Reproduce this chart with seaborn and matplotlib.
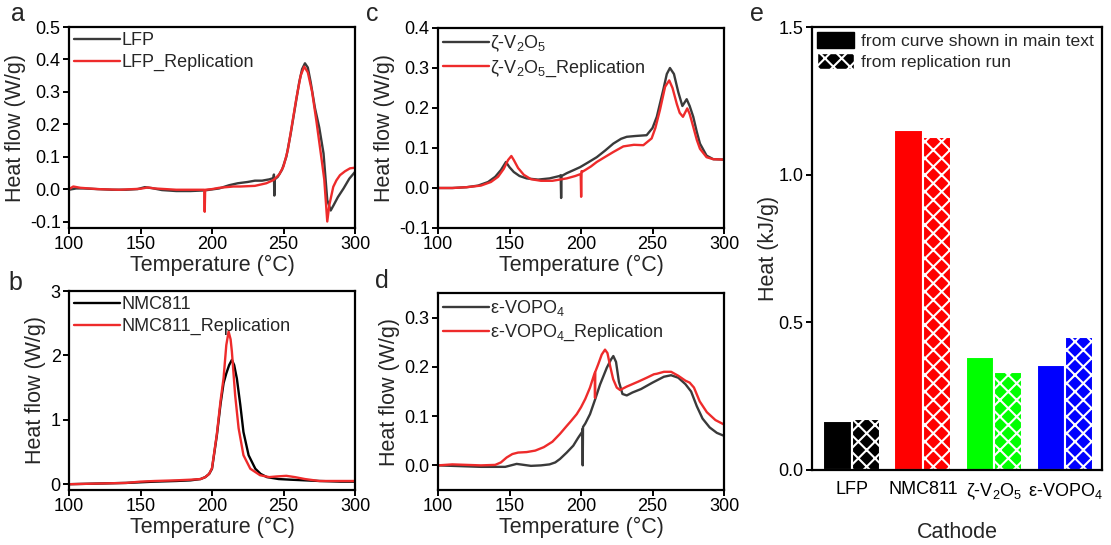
import matplotlib
matplotlib.use("Agg")
import matplotlib.pyplot as plt
from matplotlib.patches import Patch
import numpy as np
import pandas as pd
import seaborn as sns

# ---- panel a : LFP
lfp_T = [100, 105, 110, 120, 130, 140, 148, 153, 158, 165, 175, 185, 195, 205, 212, 218, 225,
         230, 235, 240, 243, 243.3, 243.6, 243.9, 246, 249, 252, 255, 258, 261, 263, 265, 267,
         269, 272, 275, 278, 280.6, 283, 285, 288, 292, 296, 300]
lfp_Y = [-0.002, 0.002, 0.002, 0.0, -0.002, -0.002, 0.0, 0.006, 0.003, -0.003, -0.006, -0.006,
         -0.004, 0.002, 0.012, 0.018, 0.022, 0.026, 0.026, 0.030, 0.034, 0.045, -0.02, 0.03,
         0.038, 0.06, 0.10, 0.17, 0.25, 0.33, 0.37, 0.388, 0.375, 0.33, 0.25, 0.19, 0.11,
         -0.034, -0.066, -0.05, -0.025, 0.002, 0.032, 0.053]
lfp_rep_T = [100, 103, 108, 120, 135, 150, 155, 160, 175, 190, 194.6, 194.9, 195.2, 195.5, 200,
             205, 210, 215, 220, 230, 238, 243, 247, 250, 253, 256, 259, 262, 264.5, 267, 270,
             273, 276.7, 278.5, 280.6, 282, 284.8, 287, 289.5, 293, 296.5, 300]
lfp_rep_Y = [0.0, 0.008, 0.004, 0.0, -0.002, 0.001, 0.005, 0.002, -0.002, -0.002, -0.002, -0.07,
             -0.005, -0.002, 0.0, 0.004, 0.006, 0.008, 0.008, 0.01, 0.018, 0.028, 0.045, 0.07,
             0.12, 0.2, 0.28, 0.35, 0.378, 0.36, 0.3, 0.21, 0.09, 0.03, -0.1, -0.05, 0.007,
             0.027, 0.043, 0.055, 0.064, 0.066]

# ---- panel b : NMC811
nmc_T = [100, 120, 140, 150, 160, 175, 185, 192, 195.3, 198, 200, 203.4, 206, 208.1, 210, 212,
         213.9, 215.5, 217.4, 219.8, 222, 225.6, 230.3, 234, 238.4, 246.6, 255, 265, 275, 290, 300]
nmc_Y = [0.0, 0.01, 0.02, 0.03, 0.04, 0.05, 0.06, 0.08, 0.11, 0.16, 0.24, 0.76, 1.25, 1.57,
         1.72, 1.85, 1.93, 1.85, 1.64, 1.23, 0.81, 0.45, 0.24, 0.16, 0.11, 0.08, 0.07, 0.06,
         0.05, 0.04, 0.04]
nmc_rep_T = [100, 120, 140, 150, 160, 175, 185, 192, 195.3, 198, 200, 203.4, 206, 208.1, 210,
             211.6, 213, 213.9, 216.2, 218.6, 222, 226.8, 233.6, 240, 245, 252, 258, 265, 275,
             290, 300]
nmc_rep_Y = [0.0, 0.01, 0.02, 0.04, 0.05, 0.06, 0.07, 0.08, 0.11, 0.16, 0.25, 0.78, 1.3, 1.65,
             2.16, 2.37, 2.25, 2.06, 1.38, 0.87, 0.45, 0.24, 0.14, 0.11, 0.12, 0.13, 0.11, 0.08,
             0.05, 0.05, 0.05]

# ---- panel c : zeta-V2O5
v2o5_T = [100, 110, 120, 128, 135, 140, 144, 147.5, 150, 153, 157, 162, 170, 178, 185, 185.8,
          186.1, 186.4, 190, 195, 199.3, 205, 211, 217, 222.6, 228, 232, 238, 245.9, 250, 253,
          257.5, 260, 262.2, 265, 268, 270.9, 273.9, 276, 278.5, 281, 283.2, 287.8, 292.5, 300]
v2o5_Y = [0.0, 0.0, 0.002, 0.006, 0.015, 0.028, 0.045, 0.065, 0.052, 0.04, 0.03, 0.024, 0.021,
          0.024, 0.03, 0.032, -0.025, 0.03, 0.037, 0.045, 0.052, 0.064, 0.077, 0.094, 0.111,
          0.123, 0.128, 0.13, 0.132, 0.15, 0.178, 0.245, 0.285, 0.30, 0.285, 0.24, 0.205, 0.222,
          0.205, 0.178, 0.14, 0.111, 0.081, 0.072, 0.071]
v2o5_rep_T = [100, 110, 120, 130, 137, 142, 146, 149, 151.3, 153, 156, 160, 165, 172, 180, 190,
              196, 199.8, 200.1, 200.4, 200.7, 203, 207, 211, 217, 222.6, 229.6, 237, 243.6,
              249.4, 252, 255.2, 258.8, 261.7, 264, 267, 269, 271.3, 274.3, 276, 278.5, 281,
              283.2, 287.8, 292.5, 300]
v2o5_rep_Y = [0.0, 0.0, 0.002, 0.006, 0.015, 0.028, 0.048, 0.07, 0.08, 0.07, 0.05, 0.033, 0.022,
              0.018, 0.018, 0.024, 0.03, 0.035, -0.022, 0.042, 0.04, 0.045, 0.054, 0.065, 0.078,
              0.09, 0.104, 0.108, 0.107, 0.124, 0.15, 0.195, 0.253, 0.269, 0.25, 0.21, 0.188,
              0.178, 0.199, 0.185, 0.153, 0.12, 0.098, 0.077, 0.072, 0.071]

# ---- panel d : epsilon-VOPO4
vopo_T = [100, 110, 120, 130, 140, 147, 151, 155, 160, 165, 172, 178, 182, 185.3, 190, 194.6,
          198, 200.8, 201.0, 201.2, 201.4, 203, 206.3, 210, 213.3, 218, 221, 222.6, 224.5,
          226.5, 229, 232, 236, 242, 250, 258, 263, 268, 273, 277, 281, 285, 290, 295, 300]
vopo_Y = [0.0, -0.001, -0.002, -0.003, -0.003, -0.003, 0.0, 0.003, 0.001, -0.001, 0.0, 0.002,
          0.006, 0.013, 0.026, 0.04, 0.056, 0.068, 0.074, 0.0, 0.078, 0.085, 0.104, 0.135,
          0.164, 0.198, 0.215, 0.222, 0.21, 0.17, 0.145, 0.142, 0.148, 0.155, 0.168, 0.18,
          0.183, 0.178, 0.165, 0.15, 0.12, 0.095, 0.077, 0.066, 0.06]
vopo_rep_T = [100, 110, 120, 130, 140, 144, 148, 152, 156, 162, 168, 174, 180, 185.3, 190, 193,
              197, 200, 203, 206.3, 209.6, 209.8, 210.0, 212, 214.5, 216.8, 218.5, 220.5, 222.5,
              225, 227.3, 232, 240, 246, 251, 253, 258, 263, 268, 273, 276, 279, 283, 288, 294,
              300]
vopo_rep_Y = [0.0, 0.002, 0.001, 0.0, 0.001, 0.006, 0.016, 0.023, 0.026, 0.027, 0.03, 0.037,
              0.048, 0.064, 0.08, 0.09, 0.104, 0.118, 0.135, 0.158, 0.188, 0.137, 0.19, 0.205,
              0.225, 0.235, 0.228, 0.2, 0.175, 0.158, 0.153, 0.16, 0.17, 0.178, 0.185, 0.186,
              0.19, 0.19, 0.182, 0.172, 0.168, 0.158, 0.13, 0.108, 0.092, 0.083]

# ---- panel e : integrated heat
cathodes = ["LFP", "NMC811", "ζ-V$_2$O$_5$", "ε-VOPO$_4$"]
heat_main = [0.166, 1.151, 0.382, 0.356]
heat_rep = [0.172, 1.128, 0.333, 0.450]
bar_colors = ["#000000", "#FF0000", "#00FF00", "#0000FF"]

sns.set_theme(style="ticks")
plt.rcParams["font.family"] = ["Liberation Sans", "DejaVu Sans"]
plt.rcParams["mathtext.default"] = "regular"
plt.rcParams["axes.unicode_minus"] = False
plt.rcParams["axes.linewidth"] = 1.6
plt.rcParams["axes.edgecolor"] = "black"
plt.rcParams["xtick.color"] = "black"
plt.rcParams["ytick.color"] = "black"
plt.rcParams["xtick.major.width"] = 1.4
plt.rcParams["ytick.major.width"] = 1.4
plt.rcParams["xtick.major.size"] = 4
plt.rcParams["ytick.major.size"] = 4
plt.rcParams["hatch.linewidth"] = 1.5

tick_fs = 13
label_fs = 15.5
red_c = "#EE2B2B"


def dsc_panel(ax, T1, Y1, T2, Y2, name, ylim, yticks, dark="#3a3a3a"):
    sns.lineplot(x=T1, y=Y1, ax=ax, color=dark, lw=1.7, sort=False, estimator=None, label=name)
    sns.lineplot(x=T2, y=Y2, ax=ax, color=red_c, lw=1.7, sort=False, estimator=None,
                 label=name + "_Replication")
    ax.set_xlim(100, 300)
    ax.set_ylim(*ylim)
    ax.set_xticks([100, 150, 200, 250, 300])
    ax.set_yticks(yticks)
    ax.tick_params(labelsize=tick_fs, direction="out", pad=2)
    ax.set_xlabel("Temperature (°C)", fontsize=label_fs, labelpad=1)
    ax.set_ylabel("Heat flow (W/g)", fontsize=label_fs, labelpad=3)
    ax.legend(loc="upper left", frameon=False, fontsize=tick_fs, handlelength=2.5,
              handletextpad=0.1, labelspacing=0.25, borderaxespad=0.1, borderpad=0.2)


fig = plt.figure(figsize=(11.11, 5.45), dpi=100)
W, H = 1111, 545


def add_ax(x0, y0, x1, y1):
    return fig.add_axes([x0 / W, 1 - y1 / H, (x1 - x0) / W, (y1 - y0) / H])


ax_a = add_ax(69, 27, 355, 228)
ax_b = add_ax(69, 291, 355, 490)
ax_c = add_ax(438, 28, 724, 228)
ax_d = add_ax(438, 293, 724, 490)
ax_e = add_ax(812, 27, 1102, 470)

dsc_panel(ax_a, lfp_T, lfp_Y, lfp_rep_T, lfp_rep_Y, "LFP", (-0.12, 0.5),
          [-0.1, 0.0, 0.1, 0.2, 0.3, 0.4, 0.5])
ax_a.set_yticklabels(["-0.1", "0.0", "0.1", "0.2", "0.3", "0.4", "0.5"])
dsc_panel(ax_b, nmc_T, nmc_Y, nmc_rep_T, nmc_rep_Y, "NMC811", (-0.09, 3), [0, 1, 2, 3],
          dark="#000000")
dsc_panel(ax_c, v2o5_T, v2o5_Y, v2o5_rep_T, v2o5_rep_Y, "ζ-V$_2$O$_5$", (-0.1, 0.4),
          [-0.1, 0.0, 0.1, 0.2, 0.3, 0.4])
ax_c.set_yticklabels(["-0.1", "0.0", "0.1", "0.2", "0.3", "0.4"])
dsc_panel(ax_d, vopo_T, vopo_Y, vopo_rep_T, vopo_rep_Y, "ε-VOPO$_4$", (-0.05, 0.35),
          [0.0, 0.1, 0.2, 0.3])
ax_d.set_yticklabels(["0.0", "0.1", "0.2", "0.3"])

# bar panel
df = pd.DataFrame({
    "cathode": cathodes * 2,
    "heat": heat_main + heat_rep,
    "run": ["main"] * 4 + ["rep"] * 4,
})
sns.barplot(data=df, x="cathode", y="heat", hue="run", ax=ax_e, width=0.8, legend=False,
            palette=["#000000", "#000000"], saturation=1)
for j, cont in enumerate(ax_e.containers):
    for i, p in enumerate(cont.patches):
        p.set_facecolor(bar_colors[i])
        p.set_edgecolor("white")
        p.set_linewidth(1.5)
        if j == 1:
            p.set_hatch("xx")
ax_e.set_xlim(-0.56, 3.52)
ax_e.set_ylim(0, 1.5)
ax_e.set_yticks([0.0, 0.5, 1.0, 1.5])
ax_e.set_yticklabels(["0.0", "0.5", "1.0", "1.5"])
ax_e.tick_params(axis="y", labelsize=tick_fs, direction="out", pad=2)
ax_e.tick_params(axis="x", labelsize=tick_fs, length=0, pad=8)
ax_e.set_xlabel("Cathode", fontsize=label_fs, labelpad=15)
ax_e.set_ylabel("Heat (kJ/g)", fontsize=label_fs, labelpad=0)
handles = [Patch(facecolor="black", edgecolor="black"),
           Patch(facecolor="black", edgecolor="white", hatch="xx")]
ax_e.legend(handles, ["from curve shown in main text", "from replication run"],
            loc="upper left", frameon=False, fontsize=12.6, handlelength=2.1, handleheight=1.0,
            handletextpad=0.4, labelspacing=0.25, borderaxespad=0.1, borderpad=0.2)

for letter, (px, py) in zip("abcde", [(18, 14), (15, 283), (372, 14), (382, 281), (757, 14)]):
    fig.text(px / W, 1 - py / H, letter, fontsize=18, ha="center", va="center")

fig.savefig("out.png", dpi=100)
